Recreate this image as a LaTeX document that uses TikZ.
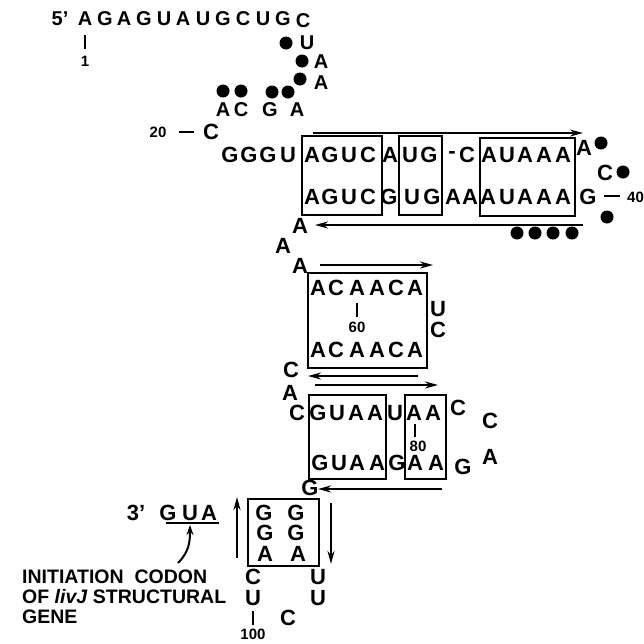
\documentclass[tikz,border=0pt]{standalone}
\usepackage{fontspec}
\setmainfont{Liberation Sans}
\usetikzlibrary{arrows.meta}
\begin{document}
\begin{tikzpicture}[x=1pt,y=-1pt,
 nt/.style={font=\fontsize{22}{22}\selectfont\bfseries, inner sep=0pt},
 ntt/.style={font=\fontsize{20}{20}\selectfont\bfseries, inner sep=0pt},
 num/.style={font=\fontsize{15}{15}\selectfont\bfseries, inner sep=0pt},
 lbl/.style={font=\fontsize{19.5}{19.5}\selectfont\bfseries, inner sep=0pt, anchor=west},
 dot/.style={circle, fill=black, inner sep=0pt, minimum size=13pt},
 bx/.style={draw, line width=2.2pt},
 strand/.style={line width=2pt, -{Stealth[length=13pt,width=7pt]}},
 tick/.style={line width=2.2pt},
 bond/.style={line width=2pt}
]
\useasboundingbox (0,0) rectangle (644,643);

% top 5' strand
\node[ntt] (p5) at (60,19) {5'};
\foreach \x/\l [count=\i] in {85/A,105/G,124/A,144/G,164/U,183/A,203/U,223/G,243/C,263/U,283/G}
  \node[ntt] (t\i) at (\x,19) {\l};
\node[ntt] (t12) at (303,21) {C};
\coordinate (k1a) at (85,35); \coordinate (k1b) at (85,49);
\draw[tick] (k1a) -- (k1b);
\node[num] (n1) at (85,61) {1};

% descending loop
\node[dot] (d1) at (286,43) {}; \node[ntt] (s1) at (307,43) {U};
\node[dot] (d2) at (302,61) {}; \node[ntt] (s2) at (321,62) {A};
\node[dot] (d3) at (300,79) {}; \node[ntt] (s3) at (321,83) {A};
\node[dot] (d4) at (223,91) {};
\node[dot] (d5) at (241,91) {};
\node[dot] (d6) at (272,92) {};
\node[dot] (d7) at (288,92) {};
\node[ntt] (s4) at (223,110) {A};
\node[ntt] (s5) at (241,110) {C};
\node[ntt] (s6) at (270,110) {G};
\node[ntt] (s7) at (297,110) {A};

% 20 - C
\node[num] (n20) at (158,132) {20};
\node[nt] (s8) at (211,132) {C};
\coordinate (b20a) at (179,132); \coordinate (b20b) at (194,132);
\draw[bond] (b20a) -- (b20b);

% stem 1, upper strand
\foreach \x/\l [count=\i] in {230/G,249/G,268/G,288/U,312/A,330/G,349/U,368/C,390/A,410/U,429/G,452/-,467/C,489/A,507/U,525/A,544/A,563/A}
  \node[nt] (u\i) at (\x,155) {\l};
\node[nt] (u19) at (584,148) {A};
\node[dot] (d8) at (601,143) {};
\node[nt] (s9) at (605,173) {C};
\node[dot] (d9) at (623,172) {};

% stem 1, lower strand
\foreach \x/\l [count=\i] in {312/A,330/G,349/U,368/C,389/G,412/U,432/G,453/A,470/A,488/A,507/U,525/A,544/A,563/A}
  \node[nt] (l\i) at (\x,197) {\l};
\node[nt] (l15) at (588,197) {G};
\node[num,anchor=west] (n40) at (627,197) {40};
\coordinate (b40a) at (604,196); \coordinate (b40b) at (620,196);
\draw[bond] (b40a) -- (b40b);
\node[dot] (d10) at (607,217) {};
\foreach \x [count=\i] in {517,535,553,572}
  \node[dot] (e\i) at (\x,233) {};

% boxes of stem 1
\node[bx, minimum width=80pt, minimum height=79pt] (B1) at (342,175.5) {};
\node[bx, minimum width=43pt, minimum height=79pt] (B2) at (420.5,175.5) {};
\node[bx, minimum width=95pt, minimum height=78pt] (B3) at (527.5,177) {};

\coordinate (a1s) at (313,133); \coordinate (a1e) at (583,133);
\draw[strand] (a1s) -- (a1e);
\coordinate (a2s) at (583,225); \coordinate (a2e) at (315,225);
\draw[strand] (a2s) -- (a2e);

% linker A A A
\node[nt] (m1) at (300,226) {A};
\node[nt] (m2) at (283,246) {A};
\node[nt] (m3) at (300,266) {A};

% stem 2
\node[bx, minimum width=119pt, minimum height=95pt] (B4) at (367.5,320.5) {};
\coordinate (a3s) at (320,265); \coordinate (a3e) at (433,265);
\draw[strand] (a3s) -- (a3e);
\foreach \x/\l [count=\i] in {318/A,336/C,357/A,377/A,396/C,415/A}
  \node[nt] (v\i) at (\x,288) {\l};
\foreach \x/\l [count=\i] in {318/A,336/C,357/A,377/A,396/C,415/A}
  \node[nt] (w\i) at (\x,350) {\l};
\coordinate (k60a) at (357,303); \coordinate (k60b) at (357,317);
\draw[tick] (k60a) -- (k60b);
\node[num] (n60) at (357,327) {60};
\node[nt] (s10) at (438,309) {U};
\node[nt] (s11) at (438,330) {C};
\node[nt] (s12) at (291,370) {C};
\coordinate (a4s) at (418,376); \coordinate (a4e) at (308,376);
\draw[strand] (a4s) -- (a4e);
\coordinate (a5s) at (315,385); \coordinate (a5e) at (438,385);
\draw[strand] (a5s) -- (a5e);
\node[nt] (s13) at (290,393) {A};
\node[nt] (s14) at (297,413) {C};

% stem 3
\node[bx, minimum width=77pt, minimum height=84pt] (B5) at (347.5,437) {};
\node[bx, minimum width=41pt, minimum height=84pt] (B6) at (425.5,437) {};
\foreach \x/\l [count=\i] in {318/G,337/U,356/A,375/A,395/U,414/A,433/A}
  \node[nt] (x\i) at (\x,413) {\l};
\foreach \x/\l [count=\i] in {320/G,339/U,357/A,377/A,397/G,415/A,436/A}
  \node[nt] (y\i) at (\x,463) {\l};
\coordinate (k80a) at (415,424); \coordinate (k80b) at (415,437);
\draw[tick] (k80a) -- (k80b);
\node[num] (n80) at (418,446) {80};
\node[nt] (s15) at (458,408) {C};
\node[nt] (s16) at (490,421) {C};
\node[nt] (s17) at (490,457) {A};
\node[nt] (s18) at (463,467) {G};
\node[nt] (s19) at (310,488) {G};
\coordinate (a6s) at (442,489); \coordinate (a6e) at (318,489);
\draw[strand] (a6s) -- (a6e);

% stem 4
\node[bx, minimum width=71pt, minimum height=67pt] (B7) at (283.5,532.5) {};
\node[nt] (z1) at (264,513) {G}; \node[nt] (z2) at (296,513) {G};
\node[nt] (z3) at (265,533) {G}; \node[nt] (z4) at (296,533) {G};
\node[nt] (z5) at (265,554) {A}; \node[nt] (z6) at (298,554) {A};
\coordinate (a7s) at (237,558); \coordinate (a7e) at (237,497);
\draw[strand] (a7s) -- (a7e);
\coordinate (a8s) at (331,503); \coordinate (a8e) at (331,564);
\draw[strand] (a8s) -- (a8e);
\node[nt] (q1) at (253,577) {C}; \node[nt] (q2) at (318,577) {U};
\node[nt] (q3) at (253,598) {U}; \node[nt] (q4) at (318,598) {U};
\node[nt] (q5) at (288,618) {C};
\coordinate (k100a) at (253,611); \coordinate (k100b) at (253,625);
\draw[tick] (k100a) -- (k100b);
\node[num] (n100) at (253,634) {100};

% 3' end
\node[nt] (p3) at (136,513) {3'};
\node[nt] (g1) at (168,513) {G};
\node[nt] (g2) at (190,513) {U};
\node[nt] (g3) at (209,513) {A};
\coordinate (ul1) at (166,523); \coordinate (ul2) at (219,523);
\draw[line width=2pt] (ul1) -- (ul2);

% label
\node[lbl] (L1) at (22,577) {INITIATION\ \ CODON};
\node[lbl] (L2) at (22,597) {OF \textit{livJ} STRUCTURAL};
\node[lbl] (L3) at (22,617) {GENE};
\coordinate (c0) at (178,563); \coordinate (c1) at (190,525);
\draw[line width=2pt, -{Stealth[length=10pt,width=7pt]}] (c0) .. controls (189,552) and (190,542) .. (c1);
\end{tikzpicture}
\end{document}
